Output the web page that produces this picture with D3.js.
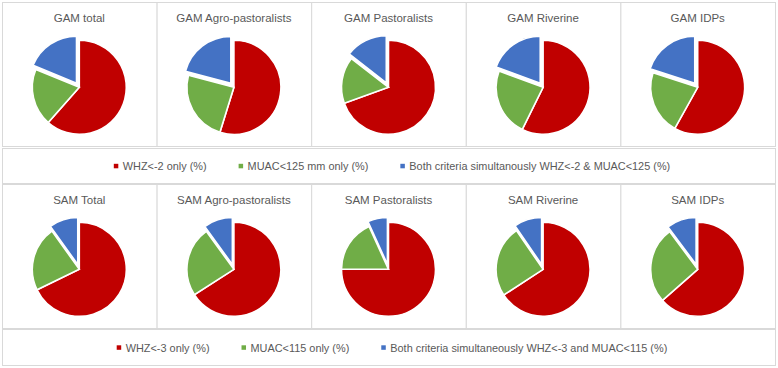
<!DOCTYPE html>
<html>
<head>
<meta charset="utf-8">
<script src="https://cdn.jsdelivr.net/npm/d3@7"></script>
<style>
  body { margin: 0; background: #fff; }
  text { font-family: "Liberation Sans", Arial, sans-serif; fill: #595959; }
</style>
</head>
<body>
<svg id="chart" width="778" height="368"></svg>
<script>
// panel titles
var gamTitles = ["GAM total", "GAM Agro-pastoralists", "GAM Pastoralists", "GAM Riverine", "GAM IDPs"];
var samTitles = ["SAM Total", "SAM Agro-pastoralists", "SAM Pastoralists", "SAM Riverine", "SAM IDPs"];

// GAM shares (%)
var gamWhz   = [61.5, 54.8, 69.5, 57.3, 58.1];
var gamMuac  = [19.7, 24.3, 16.0, 23.3, 21.9];
var gamBoth  = [18.8, 20.9, 14.5, 19.4, 20.0];

// SAM shares (%)
var samWhz   = [67.8, 65.9, 75.0, 65.8, 63.4];
var samMuac  = [22.3, 24.1, 18.2, 24.6, 26.3];
var samBoth  = [9.9, 10.0, 6.8, 9.6, 10.2];

var gamLegend = ["WHZ<-2 only (%)", "MUAC<125 mm only (%)", "Both criteria simultanously WHZ<-2 & MUAC<125 (%)"];
var samLegend = ["WHZ<-3 only  (%)", "MUAC<115 only (%)", "Both criteria simultaneously WHZ<-3 and MUAC<115 (%)"];

var colors = ["#C00000", "#70AD47", "#4472C4"];
var border = "#D9D9D9";

let svg = d3.select("#chart");

let xBand = d3.scaleBand()
    .domain(d3.range(5))
    .range([2, 775]);

let radius = 47;
let explode = 5;

let pie = d3.pie().sort(null).value(d => d);
let arc = d3.arc().innerRadius(0).outerRadius(radius);

function drawRow(titles, whz, muac, both, top, h) {
    let rows = titles.map((t, i) => ({title: t, values: [whz[i], muac[i], both[i]]}));

    let panel = svg.selectAll(null)
        .data(rows)
        .enter()
        .append("g")
        .attr("transform", (d, i) => "translate(" + xBand(i) + "," + top + ")");

    panel.append("rect")
        .attr("x", 0.5).attr("y", 0.5)
        .attr("width", xBand.bandwidth())
        .attr("height", h)
        .attr("fill", "white")
        .attr("stroke", border);

    panel.append("text")
        .attr("x", xBand.bandwidth() / 2)
        .attr("y", 20)
        .attr("text-anchor", "middle")
        .style("font-size", "11.5px")
        .text(d => d.title);

    let pieG = panel.append("g")
        .attr("transform", "translate(" + (xBand.bandwidth() / 2) + "," + 85.3 + ")");

    pieG.selectAll("path")
        .data(d => pie(d.values))
        .enter()
        .append("path")
        .attr("d", arc)
        .attr("fill", (d, i) => colors[i])
        .attr("stroke", "white")
        .attr("stroke-width", 1.6)
        .attr("transform", (d, i) => {
            // blue slice is pulled out a little
            if (i != 2) return null;
            let mid = (d.startAngle + d.endAngle) / 2;
            return "translate(" + (Math.sin(mid) * explode) + "," + (-Math.cos(mid) * explode) + ")";
        });
}

function drawLegend(labels, top, h) {
    let g = svg.append("g");
    g.append("rect")
        .attr("x", 2.5).attr("y", top + 0.5)
        .attr("width", 773).attr("height", h)
        .attr("fill", "white")
        .attr("stroke", border);

    let cy = top + h / 2 + 0.5;
    let items = g.selectAll("g.item")
        .data(labels)
        .enter()
        .append("g")
        .attr("class", "item");

    items.append("rect")
        .attr("x", 0).attr("y", cy - 2.2)
        .attr("width", 4.5).attr("height", 4.5)
        .attr("fill", (d, i) => colors[i]);

    items.append("text")
        .attr("x", 9)
        .attr("y", cy + 4)
        .style("font-size", "10.9px")
        .text(d => d);

    // lay items out one after another and centre the whole row
    let x = 0, pos = [];
    items.each(function () {
        pos.push(x);
        x += 9 + d3.select(this).select("text").node().getComputedTextLength() + 32;
    });
    let total = x - 32;
    let start = (2 + 775) / 2 + 3.5 - total / 2;
    items.attr("transform", (d, i) => "translate(" + (start + pos[i]) + ",0)");
}

drawRow(gamTitles, gamWhz, gamMuac, gamBoth, 2, 144);
drawLegend(gamLegend, 148, 35);
drawRow(samTitles, samWhz, samMuac, samBoth, 184, 144);
drawLegend(samLegend, 329, 36);
</script>
</body>
</html>
